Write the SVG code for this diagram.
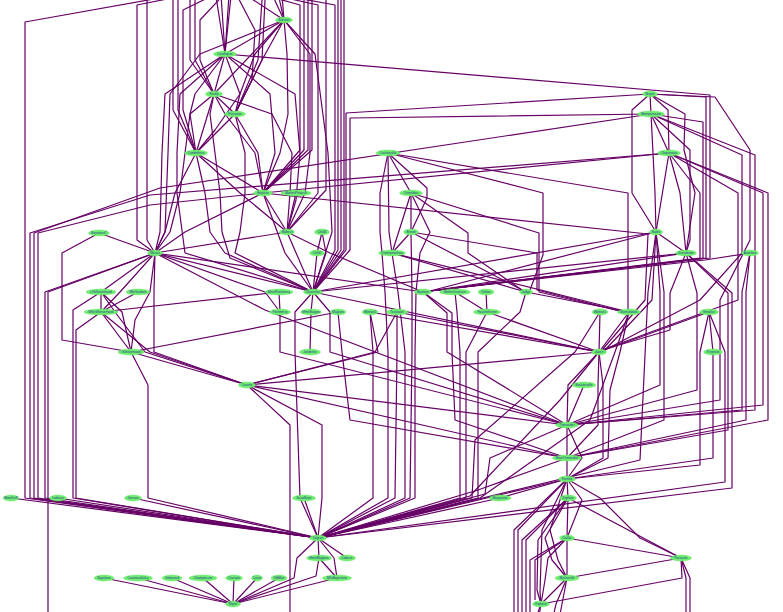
<svg xmlns="http://www.w3.org/2000/svg" width="783" height="612" viewBox="0 0 783 612">
<style>
.e{fill:none;stroke:#660066;stroke-width:1.2;stroke-linejoin:round}
.n ellipse{fill:#6cf06c;stroke:#66e066;stroke-width:0.4}
.n text{font-family:"Liberation Sans",Arial,sans-serif;font-size:3.2px;fill:#3030a0;text-anchor:middle;dominant-baseline:central}
</style>
<rect width="783" height="612" fill="#ffffff"/>
<g id="edges" class="e">
<polyline points="104,578 233,604"/>
<polyline points="337,578 233,604"/>
<polyline points="319,558 316,576 233,604"/>
<polyline points="319,558 337,578"/>
<polyline points="138,578 233,604"/>
<polyline points="172,578 233,604"/>
<polyline points="203,578 233,604"/>
<polyline points="234,578 233,604"/>
<polyline points="257,578 233,604"/>
<polyline points="279,578 233,604"/>
<polyline points="318,538 347,558"/>
<polyline points="318,538 319,558"/>
<polyline points="318,538 334,558 337,578"/>
<polyline points="318,538 297,558 294,578 233,604"/>
<polyline points="500,498 318,538"/>
<polyline points="11,498 318,538"/>
<polyline points="58,498 318,538"/>
<polyline points="133,498 318,538"/>
<polyline points="304,498 318,538"/>
<polyline points="541,604 528,640"/>
<polyline points="541,604 535,640"/>
<polyline points="567,578 562,604 555,640"/>
<polyline points="567,578 556,604 548,640"/>
<polyline points="567,578 541,604"/>
<polyline points="681,558 690,578 690,640"/>
<polyline points="681,558 686,578 686,640"/>
<polyline points="681,558 682,578 541,604"/>
<polyline points="681,558 567,578"/>
<polyline points="567,538 530,560 530,640"/>
<polyline points="567,538 535,560 535,600"/>
<polyline points="567,538 548,558 545,580 541,604"/>
<polyline points="567,538 567,578"/>
<polyline points="567,538 681,558"/>
<polyline points="568,498 522,540 522,640"/>
<polyline points="568,498 526,540 526,640"/>
<polyline points="568,498 538,540 537,590 541,604"/>
<polyline points="568,498 545,538 552,560 567,578"/>
<polyline points="568,498 681,558"/>
<polyline points="568,498 567,538"/>
<polyline points="567,479 514,530 514,640"/>
<polyline points="567,479 518,530 518,640"/>
<polyline points="567,479 542,530 540,592 541,604"/>
<polyline points="567,479 550,530 558,560 567,578"/>
<polyline points="567,479 600,498 640,538 681,558"/>
<polyline points="567,479 582,500 567,538"/>
<polyline points="567,479 568,498"/>
<polyline points="567,479 500,498"/>
<polyline points="567,479 318,538"/>
<polyline points="567,458 567,479"/>
<polyline points="567,458 478,490 318,538"/>
<polyline points="567,425 567,458"/>
<polyline points="567,425 582,458 567,479"/>
<polyline points="567,425 490,458 485,494 318,538"/>
<polyline points="247,385 567,458"/>
<polyline points="247,385 322,425 322,498 318,538"/>
<polyline points="247,385 290,425 290,640"/>
<polyline points="247,385 567,425"/>
<polyline points="599,352 560,400 470,496 318,538"/>
<polyline points="599,352 603,385 603,458 567,479"/>
<polyline points="599,352 568,385 567,425"/>
<polyline points="599,352 598,385 598,425 567,458"/>
<polyline points="599,352 247,385"/>
<polyline points="487,312 466,352 466,498 318,538"/>
<polyline points="487,312 599,352"/>
<polyline points="629,312 620,352 610,390 608,458 567,479"/>
<polyline points="629,312 599,352"/>
<polyline points="629,312 615,352 590,420 480,498 318,538"/>
<polyline points="713,352 713,458 567,479"/>
<polyline points="709,312 713,352"/>
<polyline points="709,312 725,352 725,482 318,538"/>
<polyline points="709,312 700,352 700,465 567,479"/>
<polyline points="709,312 599,352"/>
<polyline points="600,312 575,352 475,440 472,498 318,538"/>
<polyline points="600,312 599,352"/>
<polyline points="526,292 520,312 478,352 478,498 318,538"/>
<polyline points="526,292 629,312"/>
<polyline points="392,253 398,292 405,352 405,498 318,538"/>
<polyline points="392,253 526,292"/>
<polyline points="392,253 629,312"/>
<polyline points="411,232 526,292"/>
<polyline points="411,232 392,253"/>
<polyline points="411,232 412,292 412,352 410,498 318,538"/>
<polyline points="411,232 537,253 537,290 620,311"/>
<polyline points="411,193 468,233 468,253 522,290"/>
<polyline points="411,193 392,253"/>
<polyline points="411,193 411,232"/>
<polyline points="411,193 430,232 420,253 416,292 415,352 415,498 318,538"/>
<polyline points="411,193 539,233 539,292 620,311"/>
<polyline points="388,153 543,193 543,255 530,290"/>
<polyline points="388,153 389,232 392,253"/>
<polyline points="388,153 427,188 427,198 411,232"/>
<polyline points="388,153 411,193"/>
<polyline points="388,153 380,193 380,232 382,253 385,292 388,352 388,498 318,538"/>
<polyline points="388,153 628,193 628,309"/>
<polyline points="280,312 280,352 567,425"/>
<polyline points="584,385 567,425"/>
<polyline points="423,292 452,313 452,352 455,420 567,458"/>
<polyline points="423,292 447,313 447,352 567,425"/>
<polyline points="750,253 705,260 430,291"/>
<polyline points="750,253 742,292 742,410 567,425"/>
<polyline points="750,253 746,292 746,420 567,458"/>
<polyline points="370,312 373,352 373,498 318,538"/>
<polyline points="370,312 378,352 247,385"/>
<polyline points="370,312 599,352"/>
<polyline points="397,312 397,352 395,498 318,538"/>
<polyline points="397,312 375,352 247,385"/>
<polyline points="397,312 599,352"/>
<polyline points="455,292 487,312"/>
<polyline points="455,292 457,312 460,352 460,498 318,538"/>
<polyline points="486,292 487,312"/>
<polyline points="311,312 310,352"/>
<polyline points="313,292 311,312"/>
<polyline points="313,292 330,312 330,352 567,425"/>
<polyline points="313,292 599,352"/>
<polyline points="313,292 295,312 295,352 300,498 318,538"/>
<polyline points="131,352 247,385"/>
<polyline points="131,352 148,385 148,498 318,538"/>
<polyline points="338,312 131,352"/>
<polyline points="338,312 342,352 350,420 567,458"/>
<polyline points="101,312 131,352"/>
<polyline points="101,312 150,352 247,385"/>
<polyline points="101,312 76,330 76,498 318,538"/>
<polyline points="279,292 101,312"/>
<polyline points="279,292 280,312"/>
<polyline points="138,292 101,312"/>
<polyline points="101,292 101,312"/>
<polyline points="101,292 122,312 131,352"/>
<polyline points="101,292 73,310 73,498 318,538"/>
<polyline points="101,292 115,312 145,352 247,385"/>
<polyline points="155,253 120,292 101,312"/>
<polyline points="155,253 150,292 135,320 131,352"/>
<polyline points="155,253 265,292 280,312"/>
<polyline points="155,253 101,292"/>
<polyline points="155,253 154,292 154,352 247,385"/>
<polyline points="155,253 45,292 45,498 318,538"/>
<polyline points="155,253 48,292 48,640"/>
<polyline points="155,253 265,310 567,425"/>
<polyline points="155,253 423,292"/>
<polyline points="155,253 313,292"/>
<polyline points="99,233 62,253 62,340 131,352"/>
<polyline points="99,233 155,253"/>
<polyline points="287,232 155,253"/>
<polyline points="287,232 330,253 423,292"/>
<polyline points="287,232 313,292"/>
<polyline points="296,193 287,232"/>
<polyline points="263,193 185,232 155,253"/>
<polyline points="263,193 285,253 313,292"/>
<polyline points="263,193 648,234 645,300 602,350"/>
<polyline points="263,193 287,232"/>
<polyline points="263,193 150,205 38,233 38,498 318,538"/>
<polyline points="196,153 263,193"/>
<polyline points="196,153 175,193 165,232 155,253"/>
<polyline points="196,153 205,193 210,232 225,253 313,292"/>
<polyline points="196,153 240,193 287,232"/>
<polyline points="235,114 245,153 245,193 240,232 235,253 313,292"/>
<polyline points="235,114 258,153 263,193"/>
<polyline points="235,114 196,153"/>
<polyline points="214,94 210,114 215,153 220,193 222,232 230,258 313,292"/>
<polyline points="214,94 225,114 255,153 263,193"/>
<polyline points="214,94 235,114"/>
<polyline points="214,94 196,153"/>
<polyline points="214,94 272,114 292,153 290,193 287,232"/>
<polyline points="214,94 190,114 185,153 180,193 170,232 155,253"/>
<polyline points="225,54 165,94 162,153 160,232 155,253"/>
<polyline points="225,54 270,94 275,153 263,193"/>
<polyline points="225,54 195,94 190,114 196,153"/>
<polyline points="225,54 180,94 177,153 177,193 185,253 313,292"/>
<polyline points="225,54 295,94 300,153 296,200 287,232"/>
<polyline points="225,54 710,95 710,258 430,291"/>
<polyline points="225,54 214,94"/>
<polyline points="225,54 240,94 235,114"/>
<polyline points="284,20 255,54 240,94 215,130 196,153"/>
<polyline points="284,20 315,54 328,153 332,232 313,292"/>
<polyline points="284,20 225,54"/>
<polyline points="284,20 310,54 310,153 305,193 287,232"/>
<polyline points="284,20 287,54 288,114 280,153 263,193"/>
<polyline points="284,20 214,94"/>
<polyline points="284,20 262,60 235,114"/>
<polyline points="284,20 200,54 170,94 168,153 165,232 155,253"/>
<polyline points="232,-14 137,5 137,240 155,253"/>
<polyline points="232,-14 225,54"/>
<polyline points="232,-14 335,5 335,250 313,292"/>
<polyline points="232,-14 284,20"/>
<polyline points="232,-14 300,5 300,150 263,193"/>
<polyline points="232,-14 200,20 200,60 214,94"/>
<polyline points="232,-14 255,30 252,80 235,114"/>
<polyline points="232,-14 183,10 183,110 196,153"/>
<polyline points="232,-14 318,5 318,193 287,232"/>
<polyline points="232,-14 165,-3 25,22 25,498 318,538"/>
<polyline points="236,-50 270,-10 284,20"/>
<polyline points="236,-50 338,-20 338,250 313,292"/>
<polyline points="236,-50 215,-10 225,54"/>
<polyline points="236,-50 304,-20 304,150 263,193"/>
<polyline points="236,-50 195,0 195,60 214,94"/>
<polyline points="236,-50 262,0 258,60 235,114"/>
<polyline points="236,-50 178,0 178,110 196,153"/>
<polyline points="236,-50 326,-20 326,190 287,232"/>
<polyline points="236,-50 147,-10 147,240 155,253"/>
<polyline points="240,-86 308,-40 308,150 263,193"/>
<polyline points="240,-86 173,-30 173,110 196,153"/>
<polyline points="240,-86 220,-20 225,54"/>
<polyline points="240,-86 341,-40 341,250 313,292"/>
<polyline points="240,-86 275,-20 284,20"/>
<polyline points="240,-86 190,-20 190,60 214,94"/>
<polyline points="240,-86 266,-20 262,60 235,114"/>
<polyline points="244,-122 280,-30 284,20"/>
<polyline points="244,-122 230,-20 225,54"/>
<polyline points="244,-122 344,-60 344,250 313,292"/>
<polyline points="244,-122 312,-60 312,150 263,193"/>
<polyline points="317,253 313,292"/>
<polyline points="322,232 326,253 313,292"/>
<polyline points="322,232 317,253"/>
<polyline points="686,253 697,293 697,390 567,425"/>
<polyline points="686,253 732,293 732,488 318,538"/>
<polyline points="686,253 728,293 728,430 567,458"/>
<polyline points="686,253 670,293 670,330 602,350"/>
<polyline points="686,253 313,292"/>
<polyline points="686,253 430,291"/>
<polyline points="656,232 660,292 660,385 567,425"/>
<polyline points="656,232 686,253"/>
<polyline points="656,232 648,292 640,460 318,538"/>
<polyline points="656,232 664,292 664,420 567,458"/>
<polyline points="656,232 652,300 605,350"/>
<polyline points="656,232 313,292"/>
<polyline points="656,232 430,291"/>
<polyline points="669,153 763,193 763,405 567,425"/>
<polyline points="669,153 656,232"/>
<polyline points="669,153 680,193 686,253"/>
<polyline points="669,153 150,195 30,233 30,498 318,538"/>
<polyline points="669,153 768,193 768,420 567,458"/>
<polyline points="669,153 738,193 738,300 602,350"/>
<polyline points="669,153 700,193 700,258 430,291"/>
<polyline points="669,153 263,193"/>
<polyline points="651,114 742,155 742,253 700,300 603,351"/>
<polyline points="651,114 655,193 656,232"/>
<polyline points="651,114 690,150 690,240 686,253"/>
<polyline points="651,114 669,153"/>
<polyline points="651,114 160,188 34,233 34,498 318,538"/>
<polyline points="651,114 350,118 350,250 313,292"/>
<polyline points="651,114 703,122 703,258 430,291"/>
<polyline points="651,114 755,155 755,410 567,425"/>
<polyline points="650,94 632,110 632,193 656,232"/>
<polyline points="650,94 685,114 684,150 695,193 686,253"/>
<polyline points="650,94 715,97 750,150 750,240 720,300 720,400 567,425"/>
<polyline points="650,94 346,113 346,250 313,292"/>
<polyline points="650,94 706,97 706,258 430,291"/>
<polyline points="650,94 668,110 669,153"/>
<polyline points="650,94 651,114"/>
</g>
<g id="n-Bahorel" class="n"><ellipse cx="284" cy="20" rx="8.5" ry="3"/><text x="284" y="20">Bahorel</text></g>
<g id="n-Courfeyrac" class="n"><ellipse cx="225" cy="54" rx="11.5" ry="3"/><text x="225" y="54">Courfeyrac</text></g>
<g id="n-Feuilly" class="n"><ellipse cx="214" cy="94" rx="8.5" ry="3"/><text x="214" y="94">Feuilly</text></g>
<g id="n-Prouvaire" class="n"><ellipse cx="235" cy="114" rx="10.5" ry="3"/><text x="235" y="114">Prouvaire</text></g>
<g id="n-Combeferre" class="n"><ellipse cx="196" cy="153" rx="11.5" ry="3"/><text x="196" y="153">Combeferre</text></g>
<g id="n-Enjolras" class="n"><ellipse cx="263" cy="193" rx="9.5" ry="3"/><text x="263" y="193">Enjolras</text></g>
<g id="n-MotherPlutarch" class="n"><ellipse cx="296" cy="193" rx="15" ry="3"/><text x="296" y="193">MotherPlutarch</text></g>
<g id="n-Mabeuf" class="n"><ellipse cx="287" cy="232" rx="7.5" ry="3"/><text x="287" y="232">Mabeuf</text></g>
<g id="n-Child2" class="n"><ellipse cx="322" cy="232" rx="7.5" ry="3"/><text x="322" y="232">Child2</text></g>
<g id="n-Child1" class="n"><ellipse cx="317" cy="253" rx="7.5" ry="3"/><text x="317" y="253">Child1</text></g>
<g id="n-BaronessT" class="n"><ellipse cx="99" cy="233" rx="10.5" ry="3"/><text x="99" y="233">BaronessT</text></g>
<g id="n-Marius" class="n"><ellipse cx="155" cy="253" rx="7.5" ry="3"/><text x="155" y="253">Marius</text></g>
<g id="n-LtGillenormand" class="n"><ellipse cx="101" cy="292" rx="15" ry="3"/><text x="101" y="292">LtGillenormand</text></g>
<g id="n-MlleVaubois" class="n"><ellipse cx="138" cy="292" rx="12" ry="3"/><text x="138" y="292">MlleVaubois</text></g>
<g id="n-MlleGillenormand" class="n"><ellipse cx="101" cy="312" rx="17" ry="3"/><text x="101" y="312">MlleGillenormand</text></g>
<g id="n-Gillenormand" class="n"><ellipse cx="131" cy="352" rx="13" ry="3"/><text x="131" y="352">Gillenormand</text></g>
<g id="n-MmePontmercy" class="n"><ellipse cx="279" cy="292" rx="14" ry="3"/><text x="279" y="292">MmePontmercy</text></g>
<g id="n-Gavroche" class="n"><ellipse cx="313" cy="292" rx="9.5" ry="3"/><text x="313" y="292">Gavroche</text></g>
<g id="n-Pontmercy" class="n"><ellipse cx="280" cy="312" rx="10.5" ry="3"/><text x="280" y="312">Pontmercy</text></g>
<g id="n-MmeBurgon" class="n"><ellipse cx="311" cy="312" rx="10.5" ry="3"/><text x="311" y="312">MmeBurgon</text></g>
<g id="n-Magnon" class="n"><ellipse cx="338" cy="312" rx="8" ry="3"/><text x="338" y="312">Magnon</text></g>
<g id="n-Woman2" class="n"><ellipse cx="370" cy="312" rx="8" ry="3"/><text x="370" y="312">Woman2</text></g>
<g id="n-Toussaint" class="n"><ellipse cx="397" cy="312" rx="10.5" ry="3"/><text x="397" y="312">Toussaint</text></g>
<g id="n-Jondrette" class="n"><ellipse cx="310" cy="352" rx="10.5" ry="3"/><text x="310" y="352">Jondrette</text></g>
<g id="n-Cosette" class="n"><ellipse cx="247" cy="385" rx="8.5" ry="3"/><text x="247" y="385">Cosette</text></g>
<g id="n-Cochepaille" class="n"><ellipse cx="388" cy="153" rx="12" ry="3"/><text x="388" y="153">Cochepaille</text></g>
<g id="n-Chenildieu" class="n"><ellipse cx="411" cy="193" rx="11.5" ry="3"/><text x="411" y="193">Chenildieu</text></g>
<g id="n-Brevet" class="n"><ellipse cx="411" cy="232" rx="7.5" ry="3"/><text x="411" y="232">Brevet</text></g>
<g id="n-Champmathieu" class="n"><ellipse cx="392" cy="253" rx="13.5" ry="3"/><text x="392" y="253">Champmathieu</text></g>
<g id="n-Eponine" class="n"><ellipse cx="423" cy="292" rx="8.5" ry="3"/><text x="423" y="292">Eponine</text></g>
<g id="n-MotherInnocent" class="n"><ellipse cx="455" cy="292" rx="15.5" ry="3"/><text x="455" y="292">MotherInnocent</text></g>
<g id="n-Gribier" class="n"><ellipse cx="486" cy="292" rx="8" ry="3"/><text x="486" y="292">Gribier</text></g>
<g id="n-Judge" class="n"><ellipse cx="526" cy="292" rx="6.5" ry="3"/><text x="526" y="292">Judge</text></g>
<g id="n-Fauchelevent" class="n"><ellipse cx="487" cy="312" rx="13.5" ry="3"/><text x="487" y="312">Fauchelevent</text></g>
<g id="n-Woman1" class="n"><ellipse cx="600" cy="312" rx="8" ry="3"/><text x="600" y="312">Woman1</text></g>
<g id="n-Bamatabois" class="n"><ellipse cx="629" cy="312" rx="11.5" ry="3"/><text x="629" y="312">Bamatabois</text></g>
<g id="n-Simplice" class="n"><ellipse cx="709" cy="312" rx="9.5" ry="3"/><text x="709" y="312">Simplice</text></g>
<g id="n-Javert" class="n"><ellipse cx="599" cy="352" rx="7.5" ry="3"/><text x="599" y="352">Javert</text></g>
<g id="n-Perpetue" class="n"><ellipse cx="713" cy="352" rx="9.5" ry="3"/><text x="713" y="352">Perpetue</text></g>
<g id="n-Boulatruelle" class="n"><ellipse cx="584" cy="385" rx="12" ry="3"/><text x="584" y="385">Boulatruelle</text></g>
<g id="n-Thenardier" class="n"><ellipse cx="567" cy="425" rx="11.5" ry="3"/><text x="567" y="425">Thenardier</text></g>
<g id="n-MmeThenardier" class="n"><ellipse cx="567" cy="458" rx="14.5" ry="3"/><text x="567" y="458">MmeThenardier</text></g>
<g id="n-Fantine" class="n"><ellipse cx="567" cy="479" rx="8.5" ry="3"/><text x="567" y="479">Fantine</text></g>
<g id="n-Zephine" class="n"><ellipse cx="568" cy="498" rx="8.5" ry="3"/><text x="568" y="498">Zephine</text></g>
<g id="n-Dahlia" class="n"><ellipse cx="567" cy="538" rx="7.5" ry="3"/><text x="567" y="538">Dahlia</text></g>
<g id="n-Favourite" class="n"><ellipse cx="681" cy="558" rx="10.5" ry="3"/><text x="681" y="558">Favourite</text></g>
<g id="n-Blacheville" class="n"><ellipse cx="567" cy="578" rx="12" ry="3"/><text x="567" y="578">Blacheville</text></g>
<g id="n-Fameuil" class="n"><ellipse cx="541" cy="604" rx="8.5" ry="3"/><text x="541" y="604">Fameuil</text></g>
<g id="n-Brujon" class="n"><ellipse cx="650" cy="94" rx="7.5" ry="3"/><text x="650" y="94">Brujon</text></g>
<g id="n-Montparnasse" class="n"><ellipse cx="651" cy="114" rx="13.5" ry="3"/><text x="651" y="114">Montparnasse</text></g>
<g id="n-Claquesous" class="n"><ellipse cx="669" cy="153" rx="11.5" ry="3"/><text x="669" y="153">Claquesous</text></g>
<g id="n-Babet" class="n"><ellipse cx="656" cy="232" rx="6.5" ry="3"/><text x="656" y="232">Babet</text></g>
<g id="n-Gueulemer" class="n"><ellipse cx="686" cy="253" rx="10.5" ry="3"/><text x="686" y="253">Gueulemer</text></g>
<g id="n-Anzelma" class="n"><ellipse cx="750" cy="253" rx="8.5" ry="3"/><text x="750" y="253">Anzelma</text></g>
<g id="n-MmeDeR" class="n"><ellipse cx="11" cy="498" rx="8" ry="3"/><text x="11" y="498">MmeDeR</text></g>
<g id="n-Isabeau" class="n"><ellipse cx="58" cy="498" rx="8.5" ry="3"/><text x="58" y="498">Isabeau</text></g>
<g id="n-Gervais" class="n"><ellipse cx="133" cy="498" rx="8.5" ry="3"/><text x="133" y="498">Gervais</text></g>
<g id="n-Scaufflaire" class="n"><ellipse cx="304" cy="498" rx="11.5" ry="3"/><text x="304" y="498">Scaufflaire</text></g>
<g id="n-Marguerite" class="n"><ellipse cx="500" cy="498" rx="11" ry="3"/><text x="500" y="498">Marguerite</text></g>
<g id="n-Valjean" class="n"><ellipse cx="318" cy="538" rx="8.5" ry="3"/><text x="318" y="538">Valjean</text></g>
<g id="n-MmeMagloire" class="n"><ellipse cx="319" cy="558" rx="12.5" ry="3"/><text x="319" y="558">MmeMagloire</text></g>
<g id="n-Labarre" class="n"><ellipse cx="347" cy="558" rx="8.5" ry="3"/><text x="347" y="558">Labarre</text></g>
<g id="n-MlleBaptistine" class="n"><ellipse cx="337" cy="578" rx="14.5" ry="3"/><text x="337" y="578">MlleBaptistine</text></g>
<g id="n-Myriel" class="n"><ellipse cx="233" cy="604" rx="7.5" ry="3"/><text x="233" y="604">Myriel</text></g>
<g id="n-Napoleon" class="n"><ellipse cx="104" cy="578" rx="10" ry="3"/><text x="104" y="578">Napoleon</text></g>
<g id="n-CountessDeLo" class="n"><ellipse cx="138" cy="578" rx="14.5" ry="3"/><text x="138" y="578">CountessDeLo</text></g>
<g id="n-Geborand" class="n"><ellipse cx="172" cy="578" rx="10" ry="3"/><text x="172" y="578">Geborand</text></g>
<g id="n-Champtercier" class="n"><ellipse cx="203" cy="578" rx="14" ry="3"/><text x="203" y="578">Champtercier</text></g>
<g id="n-Cravatte" class="n"><ellipse cx="234" cy="578" rx="8.5" ry="3"/><text x="234" y="578">Cravatte</text></g>
<g id="n-Count" class="n"><ellipse cx="257" cy="578" rx="5.5" ry="3"/><text x="257" y="578">Count</text></g>
<g id="n-OldMan" class="n"><ellipse cx="279" cy="578" rx="8" ry="3"/><text x="279" y="578">OldMan</text></g>
</svg>
